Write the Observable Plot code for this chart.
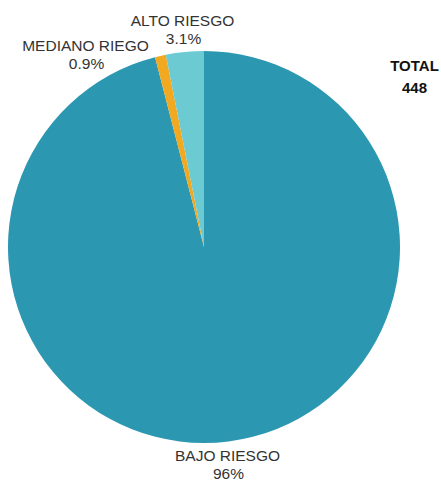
<!DOCTYPE html>
<html><head><meta charset="utf-8">
<script src="https://cdn.jsdelivr.net/npm/d3@7"></script>
<script src="https://cdn.jsdelivr.net/npm/@observablehq/plot@0.6"></script>
<style>body{margin:0;background:#fff}svg{display:block}</style>
</head><body><div id="chart"></div>
<script>
const categories = ["BAJO RIESGO", "MEDIANO RIEGO", "ALTO RIESGO"];
const counts = [430, 4, 14];
const pctLabels = ["96%", "0.9%", "3.1%"];
const colors = ["#2b97b0", "#f2a922", "#6ccad3"];
const totalLabel = ["TOTAL", "448"];

const data = categories.map((c, i) => ({category: c, count: counts[i], pct: pctLabels[i]}));

const W = 441, H = 485;
const cx = 204, cy = 247, R = 196;

function pieMark(index, scales, values, dims) {
  const g = d3.create("svg:g");
  const pie = d3.pie().sort(null).value(d => d.count);
  const arc = d3.arc().innerRadius(0).outerRadius(scales.x(R) - scales.x(0));
  g.attr("transform", `translate(${scales.x(cx)},${scales.y(cy)})`);
  g.selectAll("path").data(pie(data)).join("path")
    .attr("d", arc)
    .attr("fill", d => scales.color(d.data.category));
  return g.node();
}

const labelPos = {
  "BAJO RIESGO": [227, 456],
  "MEDIANO RIEGO": [85, 46],
  "ALTO RIESGO": [182, 21]
};
const labels = data.flatMap(d => [
  {x: labelPos[d.category][0], y: labelPos[d.category][1], text: d.category},
  {x: labelPos[d.category][0] + 1, y: labelPos[d.category][1] + 18, text: d.pct}
]);
const totals = [
  {x: 414, y: 66, text: totalLabel[0]},
  {x: 414, y: 88, text: totalLabel[1]}
];

const chart = Plot.plot({
  width: W, height: H, margin: 0,
  x: {domain: [0, W], range: [0, W], axis: null},
  y: {domain: [0, H], range: [0, H], axis: null},
  color: {domain: categories, range: colors},
  style: {fontFamily: "'Liberation Sans', Arial, sans-serif", background: "#fff"},
  marks: [
    pieMark,
    Plot.text(labels, {x: "x", y: "y", text: "text", fontSize: 15.5, fill: "#333", letterSpacing: "-0.3px"}),
    Plot.text(totals, {x: "x", y: "y", text: "text", fontSize: 15, fontWeight: "bold", fill: "#111"})
  ]
});
document.getElementById("chart").append(chart);
</script></body></html>
